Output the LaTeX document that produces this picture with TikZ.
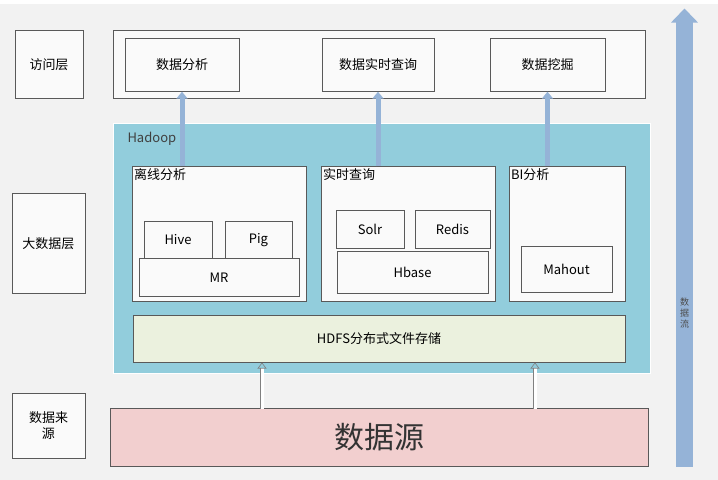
\documentclass[tikz,border=0pt]{standalone}
\usepackage{fontspec}
\setmainfont{Noto Sans CJK SC}
\usetikzlibrary{arrows.meta,positioning}
\definecolor{bggray}{HTML}{F2F2F2}
\definecolor{hadoopblue}{HTML}{92CDDC}
\definecolor{hdfsgreen}{HTML}{EBF1DE}
\definecolor{srcpink}{HTML}{F2CFCF}
\definecolor{flowblue}{HTML}{95B3D7}
\tikzset{
     box/.style   = {draw=gray!70!black, fill=white!60!bggray, font=\fontsize{13}{16}\selectfont, inner sep=0pt},
     layer/.style = {box},
     upblue/.style = {draw=flowblue, -{Triangle[length=7pt,width=11pt]}, line width=5pt},
     upwhite/.style = {draw=gray, -{Triangle[length=6pt,width=9pt,open]}, double=white, double distance=3pt, line width=0.6pt},
    }
\begin{document}
\begin{tikzpicture}[x=1pt,y=-1pt,font=\fontsize{13}{16}\selectfont]
        \fill[bggray] (0,0) rectangle (718,476);
        % left column
        \node [layer, minimum width=68, minimum height=68] (acc) at (49,61) {访问层};
        \node [layer, minimum width=73, minimum height=100] (big) at (48.5,240) {大数据层};
        \node [layer, minimum width=73, minimum height=65, align=center] (src) at (48.5,422) {数据来\\源};
        % access layer
        \node [box, minimum width=532, minimum height=68] (accbox) at (379,61) {};
        \node [box, minimum width=114, minimum height=53] (ana) at (182,61.5) {数据分析};
        \node [box, minimum width=112, minimum height=53] (rtq) at (378,61.5) {数据实时查询};
        \node [box, minimum width=115, minimum height=53] (mine) at (547.5,61.5) {数据挖掘};
        % hadoop
        \node [draw=white, fill=hadoopblue, minimum width=537, minimum height=250, inner sep=0pt] (hadoop) at (381.5,245) {};
        \node [anchor=west, text=black!75] (hlabel) at (124,135) {Hadoop};
        \node [box, minimum width=174, minimum height=135] (off) at (219,230.5) {};
        \node [anchor=north west, inner sep=2pt] (offl) at (off.north west) {离线分析};
        \node [box, minimum width=174, minimum height=135] (rt) at (408,230.5) {};
        \node [anchor=north west, inner sep=2pt] (rtl) at (rt.north west) {实时查询};
        \node [box, minimum width=116, minimum height=135] (bi) at (567,230.5) {};
        \node [anchor=north west, inner sep=2pt] (bil) at (bi.north west) {BI分析};
        \node [box, minimum width=68, minimum height=37] (hive) at (178,236.5) {Hive};
        \node [box, minimum width=67, minimum height=37] (pig) at (258.5,236.5) {Pig};
        \node [box, minimum width=160, minimum height=38] (mr) at (219,274) {MR};
        \node [box, minimum width=68, minimum height=38] (solr) at (370,226) {Solr};
        \node [box, minimum width=75, minimum height=38] (redis) at (452.5,226) {Redis};
        \node [box, minimum width=151, minimum height=42] (hbase) at (412.5,269) {Hbase};
        \node [box, minimum width=91, minimum height=46] (mahout) at (566.5,266) {Mahout};
        \node [draw=gray!70!black, fill=hdfsgreen, minimum width=492, minimum height=47] (hdfs) at (379,335.5) {HDFS分布式文件存储};
        % data source
        \node [draw=gray!70!black, fill=srcpink, minimum width=538, minimum height=58, font=\fontsize{30}{34}\selectfont, text=black!80] (ds) at (379,434) {数据源};
        % flows
        \draw [upblue] (ana.south |- off.north) -- (ana.south);
        \draw [upblue] (rtq.south |- rt.north) -- (rtq.south);
        \draw [upblue] (mine.south |- bi.north) -- (mine.south);
        \draw [upwhite] (262,405) -- (262,359);
        \draw [upwhite] (535,405) -- (535,359);
        \coordinate (flowbot) at (684.5,463);
        \coordinate (flowtop) at (684.5,5);
        \draw [draw=flowblue, -{Triangle[length=14pt,width=26pt]}, line width=17pt] (flowbot) -- (flowtop);
        \node [font=\small, text width=1em, align=center, text=black!70, inner sep=0pt] (flowl) at (684.5,310) {数 据 流};
    \end{tikzpicture}
\end{document}
